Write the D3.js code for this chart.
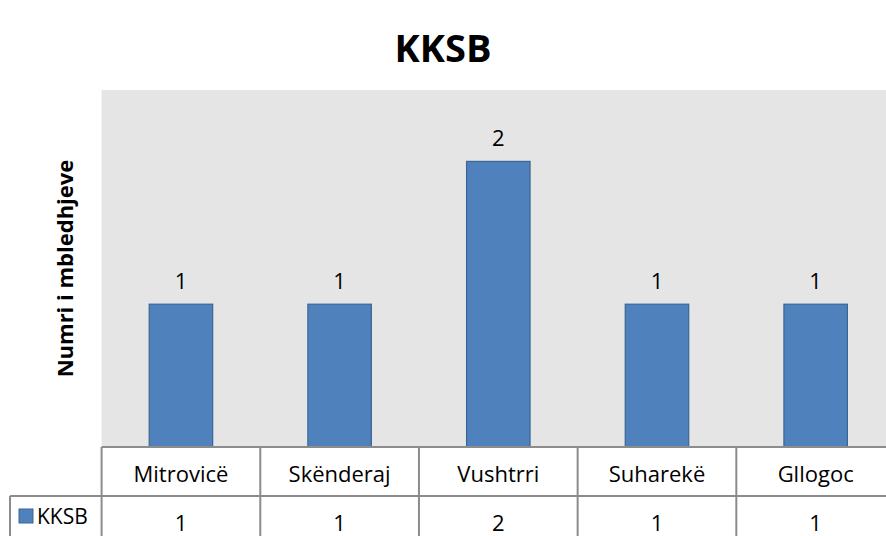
<!DOCTYPE html>
<html>
<head>
<meta charset="utf-8">
<script src="https://cdn.jsdelivr.net/npm/d3@7"></script>
<style>
  body { margin: 0; background: #fff; }
  svg text { font-family: "Open Sans", "Noto Sans", sans-serif; }
</style>
</head>
<body>
<div id="chart"></div>
<script>
const categories = ["Mitrovicë", "Skënderaj", "Vushtrri", "Suharekë", "Gllogoc"];
const seriesName = "KKSB";
const values = [1, 1, 2, 1, 1];
const yMax = 2.5;

const width = 886, height = 536;
const plot = { left: 101.6, top: 90, right: 895, bottom: 447 };
const rowH = 49;
const fs = 22;

let svg = d3.select("#chart").append("svg")
    .attr("width", width)
    .attr("height", height);

let x = d3.scaleBand()
    .domain(categories)
    .range([plot.left, plot.right])
    .paddingInner(0.6)
    .paddingOuter(0.3);

let band = d3.scaleBand()
    .domain(categories)
    .range([plot.left, plot.right]);

let y = d3.scaleLinear()
    .domain([0, yMax])
    .range([plot.bottom, plot.top]);

// plot background
svg.append("rect")
    .attr("x", plot.left)
    .attr("y", plot.top)
    .attr("width", plot.right - plot.left)
    .attr("height", plot.bottom - plot.top)
    .attr("fill", "#e5e5e5");

// bars
svg.selectAll("rect.bar")
    .data(values)
    .enter()
    .append("rect")
    .attr("class", "bar")
    .attr("x", (d, i) => x(categories[i]))
    .attr("y", d => y(d))
    .attr("width", x.bandwidth())
    .attr("height", d => y(0) - y(d))
    .attr("fill", "#4f81bd")
    .attr("stroke", "#3a6595")
    .attr("stroke-width", 1.2);

// data labels
svg.selectAll("text.lbl")
    .data(values)
    .enter()
    .append("text")
    .attr("class", "lbl")
    .attr("x", (d, i) => x(categories[i]) + x.bandwidth() / 2)
    .attr("y", d => y(d) - 15)
    .attr("text-anchor", "middle")
    .attr("font-size", fs)
    .attr("fill", "#000")
    .text(d => d);

// data table
let grid = "#8c8c8c";
let t = svg.append("g");

t.append("line")
    .attr("x1", plot.left).attr("x2", width)
    .attr("y1", plot.bottom).attr("y2", plot.bottom)
    .attr("stroke", grid).attr("stroke-width", 2);
t.append("line")
    .attr("x1", 10).attr("x2", width)
    .attr("y1", plot.bottom + rowH).attr("y2", plot.bottom + rowH)
    .attr("stroke", grid).attr("stroke-width", 2);
t.append("line")
    .attr("x1", 10).attr("x2", 10)
    .attr("y1", plot.bottom + rowH).attr("y2", height)
    .attr("stroke", grid).attr("stroke-width", 2);

t.selectAll("line.col")
    .data(categories)
    .enter()
    .append("line")
    .attr("class", "col")
    .attr("x1", d => band(d)).attr("x2", d => band(d))
    .attr("y1", plot.bottom).attr("y2", height)
    .attr("stroke", grid).attr("stroke-width", 2);

t.selectAll("text.cat")
    .data(categories)
    .enter()
    .append("text")
    .attr("class", "cat")
    .attr("x", d => band(d) + band.bandwidth() / 2)
    .attr("y", plot.bottom + 35)
    .attr("text-anchor", "middle")
    .attr("font-size", fs)
    .text(d => d);

t.selectAll("text.val")
    .data(values)
    .enter()
    .append("text")
    .attr("class", "val")
    .attr("x", (d, i) => band(categories[i]) + band.bandwidth() / 2)
    .attr("y", plot.bottom + rowH + 35)
    .attr("text-anchor", "middle")
    .attr("font-size", fs)
    .text(d => d);

// legend key in table
t.append("rect")
    .attr("x", 19).attr("y", plot.bottom + rowH + 13)
    .attr("width", 14).attr("height", 14)
    .attr("fill", "#4f81bd")
    .attr("stroke", "#3a6595");
t.append("text")
    .attr("x", 37).attr("y", plot.bottom + rowH + 28)
    .attr("font-size", fs - 1)
    .text(seriesName);

// title
svg.append("text")
    .attr("x", width / 2)
    .attr("y", 62)
    .attr("text-anchor", "middle")
    .attr("font-size", 38)
    .attr("font-weight", "bold")
    .text("KKSB");

// y axis title
svg.append("text")
    .attr("transform", "translate(73," + ((plot.top + plot.bottom) / 2) + ") rotate(-90)")
    .attr("text-anchor", "middle")
    .attr("font-size", fs)
    .attr("font-weight", "bold")
    .text("Numri i mbledhjeve");
</script>
</body>
</html>
